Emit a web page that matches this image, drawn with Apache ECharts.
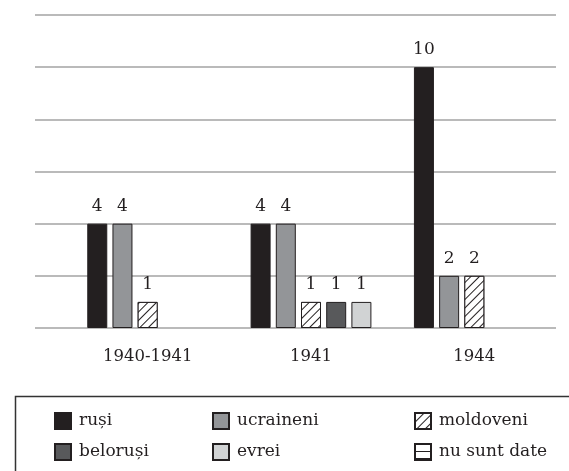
<!DOCTYPE html>
<html>
<head>
<meta charset="utf-8">
<script src="https://cdn.jsdelivr.net/npm/echarts@6/dist/echarts.min.js"></script>
<style>
    html, body { margin: 0; padding: 0; background: #fff; }
    #main { width: 569px; height: 471px; }
</style>
</head>
<body>
<div id="main"></div>
<script>
// categorii (perioade)
var years = ['1940-1941', '1941', '1944'];

// valori pe naționalități
var rusi = [4, 4, 10];
var ucraineni = [4, 4, 2];
var moldoveni = [1, 1, 2];
var belorusi = [null, 1, null];
var evrei = [null, 1, null];
var nuSuntDate = [];

var FONT = 'DejaVu Serif';
var INK = '#231f20';

var chart = echarts.init(document.getElementById('main'));

function barSeries(name, data, color, decal) {
    var s = {
        name: name,
        type: 'bar',
        xAxisIndex: 0,
        yAxisIndex: 0,
        barWidth: 20,
        barGap: '26%',
        data: data,
        itemStyle: {
            color: color,
            borderColor: INK,
            borderWidth: 1
        },
        label: {
            show: true,
            position: 'top',
            distance: 9,
            fontFamily: FONT,
            fontSize: 17,
            color: INK
        }
    };
    if (decal) s.itemStyle.decal = decal;
    return s;
}

var hatchDiag = {
    symbol: 'rect',
    color: INK,
    backgroundColor: '#fff',
    dashArrayX: [1, 0],
    dashArrayY: [0.8, 5],
    rotation: -Math.PI / 4
};
var hatchHoriz = {
    symbol: 'rect',
    color: INK,
    backgroundColor: '#fff',
    dashArrayX: [1, 0],
    dashArrayY: [1, 6],
    rotation: 0
};

var legendText = { fontFamily: FONT, fontSize: 17, color: INK, padding: [0, 0, 0, 3] };
function legendCol(left, names) {
    return {
        orient: 'vertical',
        left: left,
        top: 412,
        padding: 0,
        itemWidth: 16,
        itemHeight: 16,
        itemGap: 13,
        icon: 'rect',
        selectedMode: false,
        textStyle: legendText,
        data: names
    };
}

chart.setOption({
    animation: false,
    backgroundColor: '#fff',
    grid: [
        { left: 66, right: 13, top: 15, bottom: 143 },
        // doar pentru liniile orizontale, care pornesc mai la stânga
        { left: 35, right: 13, top: 15, bottom: 143 }
    ],
    xAxis: [
        {
            type: 'category',
            gridIndex: 0,
            data: years,
            axisLine: { show: false },
            axisTick: { show: false },
            axisLabel: {
                margin: 20,
                fontFamily: FONT,
                fontSize: 16.5,
                color: INK
            }
        },
        {
            type: 'category',
            gridIndex: 1,
            data: years,
            show: false
        }
    ],
    yAxis: [
        {
            type: 'value',
            gridIndex: 0,
            min: 0,
            max: 12,
            interval: 2,
            axisLabel: { show: false },
            axisLine: { show: false },
            axisTick: { show: false },
            splitLine: { show: false }
        },
        {
            type: 'value',
            gridIndex: 1,
            min: 0,
            max: 12,
            interval: 2,
            axisLabel: { show: false },
            axisLine: { show: false },
            axisTick: { show: false },
            splitLine: { show: true, lineStyle: { color: '#a3a3a3', width: 1.5 } }
        }
    ],
    legend: [
        legendCol(54, ['ruși', 'beloruși']),
        legendCol(212, ['ucraineni', 'evrei']),
        legendCol(414, ['moldoveni', 'nu sunt date'])
    ],
    graphic: [
        {
            type: 'rect',
            left: 13,
            top: 394,
            shape: { width: 600, height: 120 },
            style: { fill: 'none', stroke: '#333', lineWidth: 1.5 },
            silent: true
        }
    ],
    series: [
        barSeries('ruși', rusi, INK),
        barSeries('ucraineni', ucraineni, '#939598'),
        barSeries('moldoveni', moldoveni, '#ffffff', hatchDiag),
        barSeries('beloruși', belorusi, '#58595b'),
        barSeries('evrei', evrei, '#d1d3d4'),
        {
            name: 'nu sunt date',
            type: 'bar',
            xAxisIndex: 1,
            yAxisIndex: 1,
            data: nuSuntDate,
            itemStyle: {
                color: '#ffffff',
                borderColor: INK,
                borderWidth: 1,
                decal: hatchHoriz
            }
        }
    ]
});
</script>
</body>
</html>
